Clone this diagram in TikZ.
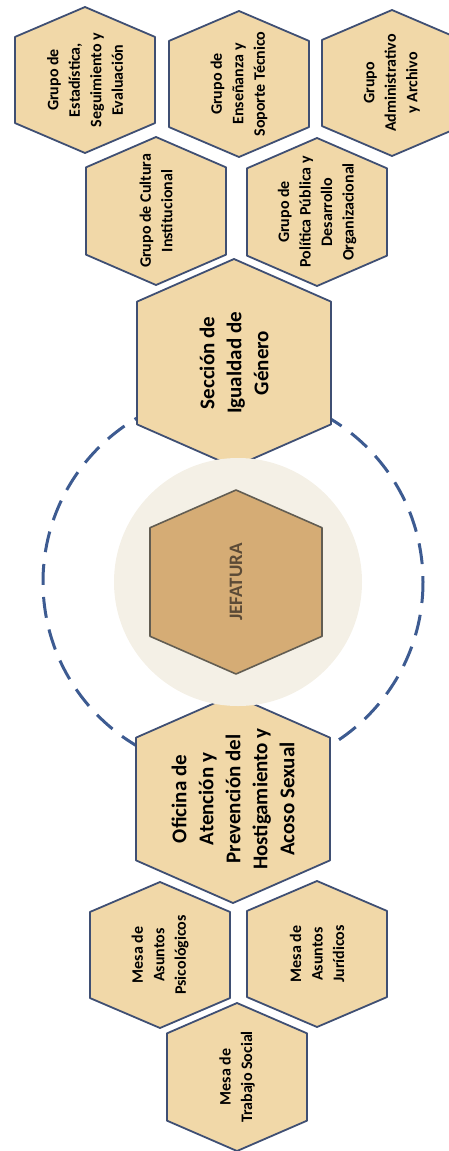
\documentclass[tikz,border=0pt]{standalone}
\usepackage{fontspec}
\setmainfont{Carlito}
\usetikzlibrary{positioning,calc}
\definecolor{hexfill}{HTML}{F1D8A8}
\definecolor{hexline}{HTML}{3F4F73}
\definecolor{jeffill}{HTML}{D5AC75}
\definecolor{jefline}{HTML}{625D52}
\definecolor{jeftext}{HTML}{5B4A36}
\definecolor{halo}{HTML}{F4F0E6}
\definecolor{ringblue}{HTML}{3D5B91}
\tikzset{
    orgchart/.style={
        x=1pt, y=-1pt,
        % celle esagonali
        hexcell/.style={fill=hexfill, draw=hexline, line width=1.8pt, line join=round},
        jefcell/.style={fill=jeffill, draw=jefline, line width=1.6pt, line join=round},
        % testi ruotati
        smalltext/.style={rotate=90, align=center, text=black,
                          font=\bfseries\fontsize{16}{21.5}\selectfont},
        bigtext/.style={rotate=90, align=center, text=black,
                        font=\bfseries\fontsize{21}{27}\selectfont},
        jeflabel/.style={rotate=90, align=center, text=jeftext,
                         font=\bfseries\fontsize{19}{23}\selectfont},
        % anello tratteggiato
        ring/.style={draw=ringblue, line width=3pt, dash pattern=on 21pt off 12pt}
    }
}
% esagono: stile, nome, x, y, semilarghezza, semialtezza, stile testo, testo
\newcommand{\hexnode}[8]{%
    \filldraw[#1, shift={(#3,#4)}] (0,-#6) -- (#5,-0.59*#6) -- (#5,0.59*#6)
        -- (0,#6) -- (-#5,0.59*#6) -- (-#5,-0.59*#6) -- cycle;
    \node[#7] (#2) at (#3,#4) {#8};
}
\begin{document}
\begin{tikzpicture}[orgchart]
  \useasboundingbox (0,0) rectangle (449,1151);
  % anello
  \draw[ring] (233,582) circle (190);
  % gruppi
  \hexnode{hexcell}{est}{85}{80}{70}{73}{smalltext}{Grupo de\\Estadística,\\Seguimiento y\\Evaluación}
  \hexnode{hexcell}{ens}{239}{84}{70}{73}{smalltext}{Grupo de\\Enseñanza y\\Soporte Técnico}
  \hexnode{hexcell}{adm}{392}{83}{70}{73}{smalltext}{Grupo\\Administrativo\\y Archivo}
  \hexnode{hexcell}{cul}{156}{211}{70}{74}{smalltext}{Grupo de Cultura\\Institucional}
  \hexnode{hexcell}{pol}{317}{212}{70}{74}{smalltext}{Grupo de\\Política Pública y\\Desarrollo\\Organizacional}
  % sezioni
  \hexnode{hexcell}{sec}{234}{363}{97}{104}{bigtext}{Sección de\\Igualdad de\\Género}
  \hexnode{hexcell}{ofi}{233}{799}{97}{104}{bigtext}{Oficina de\\Atención y\\Prevención del\\Hostigamiento y\\Acoso Sexual}
  % mesas
  \hexnode{hexcell}{psi}{160}{955}{70}{73}{smalltext}{Mesa de\\Asuntos\\Psicológicos}
  \hexnode{hexcell}{jur}{317}{954}{70}{73}{smalltext}{Mesa de\\Asuntos\\Jurídicos}
  \hexnode{hexcell}{tra}{237}{1077}{70}{74}{smalltext}{Mesa de\\Trabajo Social}
  % jefatura
  \fill[halo] (238,582) circle (124);
  \hexnode{jefcell}{jef}{236}{582}{86}{92}{jeflabel}{JEFATURA}
\end{tikzpicture}
\end{document}
